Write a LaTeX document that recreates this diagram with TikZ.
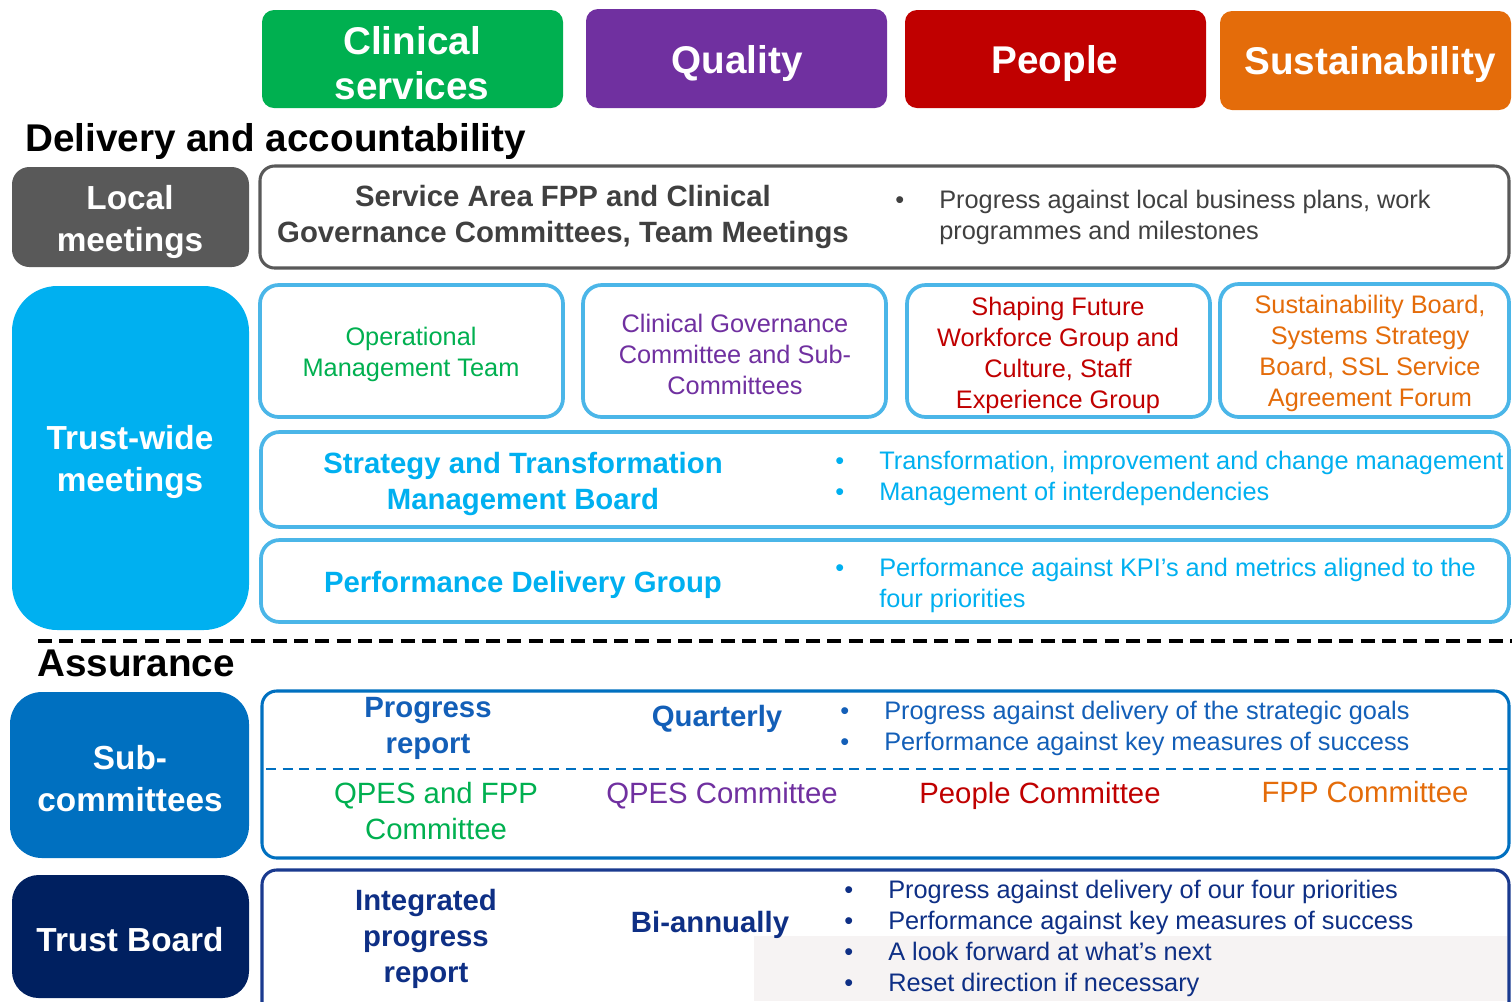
\documentclass[tikz,border=0pt]{standalone}
\usepackage{fontspec}
\setmainfont{Liberation Sans}
\definecolor{cgreen}{HTML}{00B050}
\definecolor{cpurple}{HTML}{7030A0}
\definecolor{cred}{HTML}{C00000}
\definecolor{corange}{HTML}{E46C0A}
\definecolor{cgrey}{HTML}{595959}
\definecolor{ctext}{HTML}{404040}
\definecolor{ccyan}{HTML}{00B0F0}
\definecolor{cline}{HTML}{4BB6E8}
\definecolor{cblue}{HTML}{0070C0}
\definecolor{cbluetext}{HTML}{135FB8}
\definecolor{cnavy}{HTML}{002060}
\definecolor{cnavyline}{HTML}{1A3A8F}
\definecolor{cnavytext}{HTML}{0E2F85}
\definecolor{cshade}{HTML}{F6F3F3}
\newcommand\itm[1]{\makebox[33pt][l]{\textbullet}#1}
\begin{document}
\begin{tikzpicture}[x=0.75pt,y=-0.75pt,
  hdr/.style={fill=#1,draw=none,rounded corners=9pt},
  hdrtxt/.style={text=white,align=center,inner sep=0pt,
    font=\fontsize{29}{34}\selectfont\bfseries},
  side/.style={fill=#1,draw=none},
  sidetxt/.style={text=white,align=center,inner sep=0pt,
    font=\fontsize{25}{31.5}\selectfont\bfseries},
  frame/.style={draw=#1,line width=2.3pt,fill=white,rounded corners=11pt},
  tile/.style={draw=cline,line width=2.8pt,fill=white,rounded corners=14pt},
  title/.style={text=black,inner sep=0pt,anchor=base west,
    font=\fontsize{29}{34}\selectfont\bfseries},
  boldtxt/.style={text=#1,align=center,inner sep=0pt,
    font=\fontsize{22}{27}\selectfont\bfseries},
  regtxt/.style={text=#1,align=center,inner sep=0pt,
    font=\fontsize{22}{27}\selectfont},
  tiletxt/.style={text=#1,align=center,inner sep=0pt,
    font=\fontsize{19}{23.25}\selectfont},
  points/.style={text=#1,align=left,inner sep=0pt,anchor=west,
    font=\fontsize{19}{23.25}\selectfont},
]
\useasboundingbox (0,0) rectangle (1512,1001);
\clip (0,0) rectangle (1512,1001);

% priority headers
\fill[hdr=cgreen]  (262,10) rectangle (563,108);
\fill[hdr=cpurple] (586,9) rectangle (887,108);
\fill[hdr=cred]    (905,10) rectangle (1206,108);
\fill[hdr=corange] (1220,11) rectangle (1511,110);
\node[hdrtxt] (hclin) at (412,63) {Clinical\\services};
\node[hdrtxt] (hqual) at (737,63) {Quality};
\node[hdrtxt] (hpeop) at (1055,63) {People};
\node[hdrtxt] (hsust) at (1370,64) {Sustainability};

% section titles
\node[title] (tdel) at (25,151) {Delivery and accountability};
\node[title] (tass) at (37,676) {Assurance};

% left-hand labels
\fill[side=cgrey,rounded corners=13pt]  (12,167) rectangle (249,267);
\fill[side=ccyan,rounded corners=34pt]  (12,286) rectangle (249,630);
\fill[side=cblue,rounded corners=24pt]  (10,692) rectangle (249,858);
\fill[side=cnavy,rounded corners=20pt]  (12,875) rectangle (249,998);
\node[sidetxt] (llocal) at (130,222) {Local\\meetings};
\node[sidetxt] (ltrust) at (130,462) {Trust-wide\\meetings};
\node[sidetxt] (lsub)   at (130,779) {Sub-\\committees};
\node[sidetxt] (lboard) at (130,940) {Trust Board};

% local meetings row
\draw[frame=cgrey] (260,166) rectangle (1509,268);
\node[boldtxt=ctext] (local) at (563,217)
  {Service Area FPP and Clinical\\Governance Committees, Team Meetings};
\node[points=ctext] (localpts) at (895,217)
  {\itm{Progress against local business plans, work}\\
   \hspace*{33pt}programmes and milestones};

% trust-wide meetings: priority tiles
\draw[tile] (260,285) rectangle (563,417);
\draw[tile] (583,285) rectangle (886,417);
\draw[tile] (907,285) rectangle (1210,417);
\draw[tile] (1220,284) rectangle (1509,417);
\node[tiletxt=cgreen]  (omt)  at (411,354) {Operational\\Management Team};
\node[tiletxt=cpurple] (cgc)  at (735,354) {Clinical Governance\\Committee and Sub-\\Committees};
\node[tiletxt=cred]    (sfw)  at (1058,355) {Shaping Future\\Workforce Group and\\Culture, Staff\\Experience Group};
\node[tiletxt=corange] (sbd)  at (1370,353) {Sustainability Board,\\Systems Strategy\\Board, SSL Service\\Agreement Forum};

% trust-wide meetings: boards
\draw[tile] (261,432) rectangle (1509,527);
\node[boldtxt=ccyan] (stmb) at (523,484) {Strategy and Transformation\\Management Board};
\node[points=ccyan] (stmbpts) at (835,478)
  {\itm{Transformation, improvement and change management}\\
   \itm{Management of interdependencies}};
\draw[tile] (261,540) rectangle (1509,622);
\node[boldtxt=ccyan] (pdg) at (523,585) {Performance Delivery Group};
\node[points=ccyan] (pdgpts) at (835,585)
  {\itm{Performance against KPI’s and metrics aligned to the}\\
   \hspace*{33pt}four priorities};

% boundary between delivery and assurance
\coordinate (divl) at (38,641);
\coordinate (divr) at (1512,641);
\draw[black,line width=2.5pt,dash pattern=on 10.5pt off 5.5pt] (divl) -- (divr);

% sub-committees row
\draw[frame=cblue] (262,691) rectangle (1509,858);
\coordinate (subl) at (266,769);
\coordinate (subr) at (1512,769);
\draw[cblue,line width=1.7pt,dash pattern=on 7.5pt off 5pt] (subl) -- (subr);
\node[boldtxt=cbluetext] (prep) at (428,728) {Progress\\report};
\node[boldtxt=cbluetext] (quar) at (717,719) {Quarterly};
\node[points=cbluetext] (subpts) at (840,728)
  {\itm{Progress against delivery of the strategic goals}\\
   \itm{Performance against key measures of success}};
\node[regtxt=cgreen,anchor=base] (qfpp)  at (436,839) {QPES and FPP\\Committee};
\node[regtxt=cpurple,anchor=base] (qpes)  at (722,803) {QPES Committee};
\node[regtxt=cred,anchor=base]    (pcom)  at (1040,803) {People Committee};
\node[regtxt=corange,anchor=base] (fcom)  at (1365,802) {FPP Committee};

% trust board row
\draw[frame=cnavyline] (262,870) rectangle (1509,1040);
\fill[cshade] (754,936) rectangle (1507,1001);
\node[boldtxt=cnavytext] (ipr) at (426,939) {Integrated\\progress\\report};
\node[boldtxt=cnavytext] (bian) at (710,925) {Bi-annually};
\node[points=cnavytext] (boardpts) at (844,938)
  {\itm{Progress against delivery of our four priorities}\\
   \itm{Performance against key measures of success}\\
   \itm{A look forward at what’s next}\\
   \itm{Reset direction if necessary}};
\end{tikzpicture}
\end{document}
